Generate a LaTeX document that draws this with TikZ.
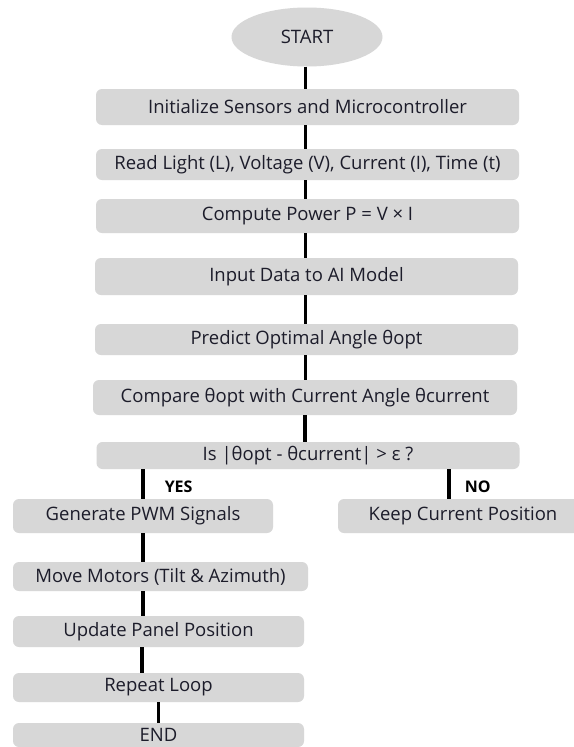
\documentclass[tikz,border=0pt]{standalone}
\usepackage{fontspec}
\usepackage{xcolor}
\setmainfont{Open Sans}
\usetikzlibrary{shapes.geometric}
\definecolor{boxgray}{RGB}{215,215,215}
\definecolor{boxtext}{RGB}{28,28,42}
\tikzstyle{stepbox}=[rectangle, rounded corners=6pt, fill=boxgray, text=boxtext, inner sep=0pt, font=\fontsize{18.5}{21}\selectfont]
\tikzstyle{terminal}=[ellipse, fill=boxgray, text=boxtext, inner sep=0pt, font=\fontsize{18.5}{21}\selectfont]
\tikzstyle{answer}=[text=black, inner sep=0pt, font=\bfseries\fontsize{16}{19}\selectfont]
\tikzstyle{link}=[line width=3.5pt, color=black]

\begin{document}
\begin{tikzpicture}[x=1pt,y=-1pt]
  \useasboundingbox[fill=white] (0,0) rectangle (573,747);

  \draw (307,37) node[terminal,minimum width=151pt,minimum height=59pt] (start) {START};

  \draw (307.5,107) node[stepbox,minimum width=423pt,minimum height=36pt] (init) {Initialize Sensors and Microcontroller};
  \draw (307.5,164.5) node[stepbox,minimum width=423pt,minimum height=31pt] (read) {Read Light (L), Voltage (V), Current (I), Time (t)};
  \draw (307.5,216) node[stepbox,minimum width=423pt,minimum height=34pt] (power) {Compute Power P = V × I};
  \draw (306.5,276.5) node[stepbox,minimum width=423pt,minimum height=37pt] (input) {Input Data to AI Model};
  \draw (306.5,339.5) node[stepbox,minimum width=423pt,minimum height=31pt] (predict) {Predict Optimal Angle θopt};
  \draw (305,397.5) node[stepbox,minimum width=424pt,minimum height=35pt] (compare) {Compare θopt with Current Angle θcurrent};
  \draw (308,455.5) node[stepbox,minimum width=423pt,minimum height=27pt] (check) {Is |θopt - θcurrent| > ε ?};

  \draw (143,516) node[stepbox,minimum width=260pt,minimum height=34pt] (pwm) {Generate PWM Signals};
  \draw (463,516) node[stepbox,minimum width=250pt,minimum height=34pt] (keep) {Keep Current Position};
  \draw (160.5,576.5) node[stepbox,minimum width=295pt,minimum height=29pt] (motors) {Move Motors (Tilt \& Azimuth)};
  \draw (158.5,631.5) node[stepbox,minimum width=291pt,minimum height=31pt] (update) {Update Panel Position};
  \draw (158.5,687.5) node[stepbox,minimum width=291pt,minimum height=29pt] (repeat) {Repeat Loop};
  \draw (158.5,735) node[stepbox,minimum width=291pt,minimum height=24pt] (end) {END};

  %% Main chain
  \draw[link] ([xshift=-1.5pt]start.south) -- ([xshift=-1.5pt]start.south |- init.north);
  \draw[link] ([xshift=-2pt]init.south) -- ([xshift=-2pt]init.south |- read.north);
  \draw[link] ([xshift=-2pt]read.south) -- ([xshift=-2pt]read.south |- power.north);
  \draw[link] ([xshift=-2pt]power.south) -- ([xshift=-2pt]power.south |- input.north);
  \draw[link] ([xshift=-1pt]input.south) -- ([xshift=-1pt]input.south |- predict.north);
  \draw[link] ([xshift=-1pt]predict.south) -- ([xshift=-1pt]predict.south |- compare.north);
  \draw[link] (compare.south) -- (compare.south |- check.north);

  %% Decision
  \draw[link] (pwm.north |- check.south) -- (pwm.north) node[answer,pos=0.6,right=20pt] (yes) {YES};
  \draw[link] ([xshift=-14pt]keep.north |- check.south) -- ([xshift=-14pt]keep.north) node[answer,pos=0.6,right=14pt] (no) {NO};

  %% YES branch
  \draw[link] (pwm.south) -- (pwm.south |- motors.north);
  \draw[link] (pwm.south |- motors.south) -- (pwm.south |- update.north);
  \draw[link] ([xshift=-1pt]pwm.south |- update.south) -- ([xshift=-1pt]pwm.south |- repeat.north);
  \draw[link, line width=3pt] (repeat.south) -- (end.north);
\end{tikzpicture}
\end{document}
